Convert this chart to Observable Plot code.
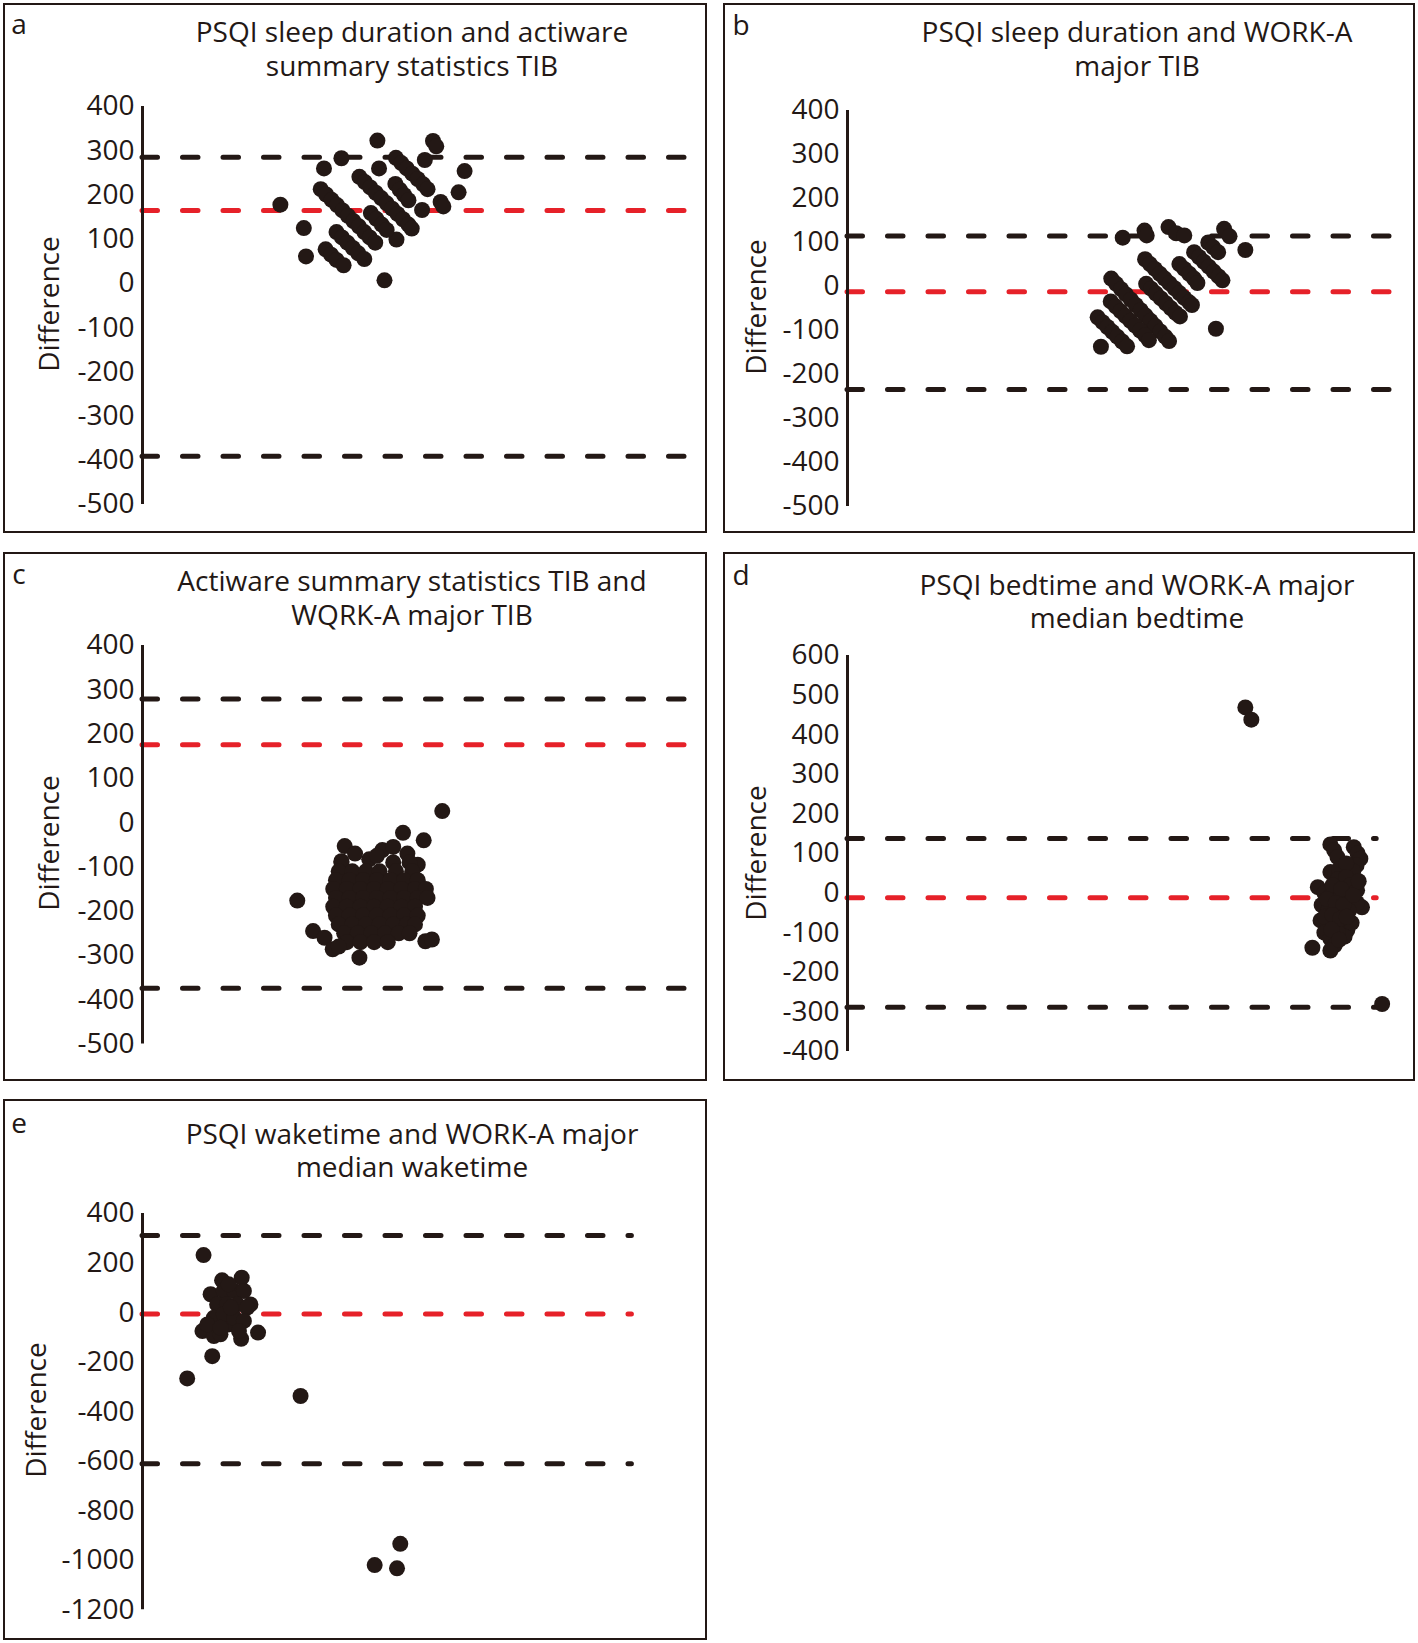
<!DOCTYPE html>
<html><head><meta charset="utf-8">
<script src="https://cdn.jsdelivr.net/npm/d3@7"></script>
<script src="https://cdn.jsdelivr.net/npm/@observablehq/plot@0.6"></script>
<style>
body{margin:0;background:#fff;font-family:"Open Sans",sans-serif;color:#231815}
#page{position:relative;width:1418px;height:1643px;overflow:hidden;background:#fff}
.panel{position:absolute;border:2px solid #231815;box-sizing:border-box}
.tline{position:absolute;text-align:center;font-size:28px;line-height:32px;height:32px;white-space:nowrap;transform:translateX(-50%)}
.letter{position:absolute;font-size:28px;line-height:28px;transform:translate(-50%,-50%)}
.ylab{position:absolute;font-size:28px;line-height:28px;white-space:nowrap;transform:translate(-50%,-50%) rotate(-90deg)}
.plot{position:absolute}
.plot svg{overflow:visible;max-width:none !important;display:block}
</style></head><body><div id="page"></div>
<script>
// ---------- data ----------
const titleA = ["PSQI sleep duration and actiware", "summary statistics TIB"];
const titleB = ["PSQI sleep duration and WORK-A", "major TIB"];
const titleC = ["Actiware summary statistics TIB and", "WQRK-A major TIB"];
const titleD = ["PSQI bedtime and WORK-A major", "median bedtime"];
const titleE = ["PSQI waketime and WORK-A major", "median waketime"];
const yLabel = "Difference";

const ticksA = [400, 300, 200, 100, 0, -100, -200, -300, -400, -500];
const ticksB = [400, 300, 200, 100, 0, -100, -200, -300, -400, -500];
const ticksC = [400, 300, 200, 100, 0, -100, -200, -300, -400, -500];
const ticksD = [600, 500, 400, 300, 200, 100, 0, -100, -200, -300, -400];
const ticksE = [400, 200, 0, -200, -400, -600, -800, -1000, -1200];

// [upper limit of agreement, mean difference, lower limit of agreement]
const limitsA = [285, 165, -391];
const limitsB = [115, -12, -234];
const limitsC = [279, 176, -374];
const limitsD = [138, -12, -288];
const limitsE = [311, -6, -611];

// [mean (arbitrary units, no x axis shown), difference]
const pointsA = [
  [25.3,178],[29.6,125],[30.0,61],[33.3,260],[36.5,283],[43.1,323],[43.4,260],[44.4,7],
  [53.3,322],[53.9,310],[51.8,279],[59.1,254],[58.0,206],[54.7,184],[55.2,174],[51.3,166],[46.6,99],
  [32.7,213],[33.7,201],[34.7,189],[35.7,177],[36.7,165],[37.7,153],[38.7,141],[39.7,129],[40.7,116],[41.7,104],[42.7,92],
  [33.6,77],[34.6,65],[35.6,53],[36.9,41],
  [35.6,116],[36.6,104],[37.6,92],[38.6,80],[39.6,68],[40.7,55],
  [39.8,241],[40.8,229],[41.8,217],[42.8,205],[43.8,193],[44.8,181],[45.8,169],[46.8,157],[47.8,145],[48.8,133],[49.4,124],
  [41.9,159],[42.9,146],[43.9,133],[44.8,121],
  [46.5,284],[47.5,272],[48.5,260],[49.5,248],[50.5,236],[51.5,224],[52.3,213],
  [46.4,225],[47.2,212],[48.0,200],[48.8,188]
];
const pointsB = [
  [50.5,111],[54.5,127],[54.9,116],[58.9,135],[60.3,121],[61.8,116],[69.1,131],[70.1,114],[73.0,83],[67.6,-96],[46.5,-137],
  [48.4,18],[49.3,6],[50.2,-6],[51.1,-18],[52.0,-30],[52.9,-42],[53.8,-54],[54.7,-66],[55.6,-78],[56.5,-90],[57.4,-102],[58.3,-114],[59.0,-124],
  [54.6,62],[55.5,51],[56.4,40],[57.3,29],[58.2,18],[59.1,7],[60.0,-4],[60.9,-15],[61.8,-26],[62.7,-36],[63.2,-42],
  [54.8,6],[55.7,-5],[56.6,-16],[57.5,-27],[58.4,-38],[59.3,-49],[60.2,-60],[61.0,-68],
  [45.9,-70],[46.8,-81],[47.7,-92],[48.6,-103],[49.5,-114],[50.4,-125],[51.3,-136],
  [48.3,-34],[49.2,-45],[50.1,-56],[51.0,-67],[51.9,-78],[52.8,-89],[53.7,-100],[54.6,-111],[55.3,-122],
  [60.9,51],[61.8,40],[62.7,29],[63.6,18],[64.2,8],
  [63.6,78],[64.5,67],[65.4,56],[66.3,45],[67.2,34],[68.1,23],[68.8,14],
  [66.2,100],[67.1,89],[68.0,78]
];
const pointsC = [
  [55.0,26],[28.4,-176],[51.6,-40],[51.9,-268],[53.1,-264],[39.8,-305],[31.3,-245],[33.4,-260],[34.9,-286],
  [37.1,-53],[47.8,-23],[36.5,-87],[41.6,-83],[44.0,-62],[46.0,-55],[48.6,-70],[50.5,-95],[43.0,-75],[39.0,-70],
  [36.5,-90],[46.0,-90],[49.0,-90],
  [36.0,-110],[38.5,-110],[41.0,-110],[43.5,-110],[46.5,-110],[49.5,-110],
  [35.5,-130],[38.0,-130],[40.5,-130],[43.0,-130],[45.5,-130],[48.0,-130],[50.5,-130],
  [35.0,-150],[37.5,-150],[40.0,-150],[42.5,-150],[45.0,-150],[47.5,-150],[50.0,-150],[52.0,-150],
  [35.5,-170],[38.0,-170],[40.5,-170],[43.0,-170],[45.5,-170],[48.0,-170],[50.5,-170],[52.3,-170],
  [35.0,-190],[37.5,-190],[40.0,-190],[42.5,-190],[45.0,-190],[47.5,-190],[50.0,-190],
  [35.5,-210],[38.0,-210],[40.5,-210],[43.0,-210],[45.5,-210],[48.0,-210],[50.5,-210],
  [36.0,-230],[38.5,-230],[41.0,-230],[43.5,-230],[46.0,-230],[48.5,-230],[50.0,-230],
  [37.0,-250],[39.5,-250],[42.0,-250],[44.5,-250],[47.0,-250],[49.0,-250],
  [37.5,-270],[40.0,-270],[42.5,-270],[45.0,-270],[36.0,-280]
];
const pointsD = [
  [73.0,469],[74.1,438],[98.1,-280],[85.3,-138],
  [88.6,123],[89.3,108],[89.9,91],[92.9,116],[93.6,100],[94.1,87],[93.4,70],[92.8,55],[88.6,53],[90.2,60],[91.5,75],
  [90.0,35],[91.5,40],[92.3,20],[93.5,7],[86.3,15],[87.5,0],[88.8,-5],[90.0,-15],[91.2,-10],[92.5,-20],[94.4,-36],[93.5,-25],
  [87.0,-30],[88.2,-45],[89.5,-40],[90.8,-50],[92.0,-45],[86.8,-69],[88.0,-80],[89.2,-70],[90.5,-85],[91.7,-94],[92.5,-75],
  [87.5,-100],[88.6,-115],[89.4,-132],[88.6,-145],[91.2,-110],[90.0,-100],
  [89.0,20],[90.6,10],[88.0,-15],[89.6,-25],[91.0,-30],[87.6,-60],[89.0,-55],[90.4,-65],[91.6,-60],[88.8,-92],[90.2,-118],[92.8,-5],[93.8,30]
];
const pointsE = [
  [11.2,232],[8.2,-266],[29.0,-337],[12.8,-176],[21.2,-81],[18.1,-106],[11.0,-75],[13.1,-95],[14.3,-88],
  [14.6,130],[18.2,141],[12.5,74],[19.8,33],[15.8,-48],
  [14.9,87],[16.8,87],[18.6,87],[13.7,33],[15.5,33],[17.4,33],[19.2,20],[13.1,-21],[14.9,-7],[16.8,-21],[18.6,-34],
  [11.9,-48],[14.3,-61],[17.7,-75],[16.2,20],[15.8,114],
  [42.6,-1020],[46.7,-1033],[47.3,-934]
];

// ---------- layout ----------
const INK = "#231815", RED = "#e62129";
const panels = [
  {letter:"a", box:[3,3,704,530], axisX:142, yTop:106, yBot:504, dom:[-500,400], ticks:ticksA, lim:limitsA, pts:pointsA, xEnd:100,
   title:titleA, tcx:412, tTop:15, lpos:[19,23], ylab:[48,304]},
  {letter:"b", box:[723,3,692,530], axisX:847, yTop:110, yBot:506, dom:[-500,400], ticks:ticksB, lim:limitsB, pts:pointsB, xEnd:99.6,
   title:titleB, tcx:1137, tTop:15, lpos:[741,24], ylab:[755,307]},
  {letter:"c", box:[3,552,704,529], axisX:142, yTop:644.5, yBot:1043, dom:[-500,400], ticks:ticksC, lim:limitsC, pts:pointsC, xEnd:100,
   title:titleC, tcx:412, tTop:564, lpos:[19,573], ylab:[48,843]},
  {letter:"d", box:[723,552,692,529], axisX:847, yTop:655, yBot:1051, dom:[-400,600], ticks:ticksD, lim:limitsD, pts:pointsD, xEnd:97.1,
   title:titleD, tcx:1137, tTop:567.5, lpos:[741,574], ylab:[755,853]},
  {letter:"e", box:[3,1099,704,541], axisX:142, yTop:1212.5, yBot:1608.7, dom:[-1200,400], ticks:ticksE, lim:limitsE, pts:pointsE, xEnd:89.8,
   title:titleE, tcx:412, tTop:1116.5, lpos:[19,1122], ylab:[35,1410]}
];

const page = document.getElementById("page");
const ML = 120, MR = 20, MT = 18, MB = 18, XW = 545;

function el(cls, css, text) {
  const d = document.createElement("div");
  d.className = cls;
  Object.assign(d.style, css);
  if (text != null) d.textContent = text;
  page.appendChild(d);
  return d;
}

for (const p of panels) {
  el("panel", {left:p.box[0]+"px", top:p.box[1]+"px", width:p.box[2]+"px", height:p.box[3]+"px"});
  p.title.forEach((line, i) => el("tline", {left:p.tcx+"px", top:(p.tTop + i*33.5)+"px"}, line));
  el("letter", {left:p.lpos[0]+"px", top:p.lpos[1]+"px"}, p.letter);
  el("ylab", {left:p.ylab[0]+"px", top:p.ylab[1]+"px"}, yLabel);

  const h = p.yBot - p.yTop;
  const W = ML + XW + MR, H = MT + h + MB;
  const chart = Plot.plot({
    width: W,
    height: H,
    marginLeft: ML, marginRight: MR, marginTop: MT, marginBottom: MB,
    x: {domain: [0, 100], axis: null},
    y: {domain: p.dom, axis: null},
    style: {fontFamily: '"Open Sans", sans-serif', fontSize: "28px", color: INK, background: "transparent", overflow: "visible", maxWidth: "none"},
    marks: [
      Plot.axisY({ticks: p.ticks, tickSize: 0, tickPadding: 8, tickFormat: d => String(d), label: null, fontSize: 28}),
      Plot.ruleY([p.lim[0], p.lim[2]], {x1: 0, x2: p.xEnd, stroke: INK, strokeWidth: 5, strokeDasharray: "15.5,25", strokeLinecap: "round"}),
      Plot.ruleY([p.lim[1]], {x1: 0, x2: p.xEnd, stroke: RED, strokeWidth: 5, strokeDasharray: "15.5,25", strokeLinecap: "round"}),
      Plot.ruleX([0], {y1: p.dom[0], y2: p.dom[1], stroke: INK, strokeWidth: 3}),
      Plot.dot(p.pts, {x: d => d[0], y: d => d[1], r: 8, fill: INK, stroke: "none"})
    ]
  });
  const wrap = el("plot", {left:(p.axisX - ML)+"px", top:(p.yTop - MT)+"px", width: W+"px", height: H+"px"});
  wrap.appendChild(chart);
}
</script>
</body></html>
